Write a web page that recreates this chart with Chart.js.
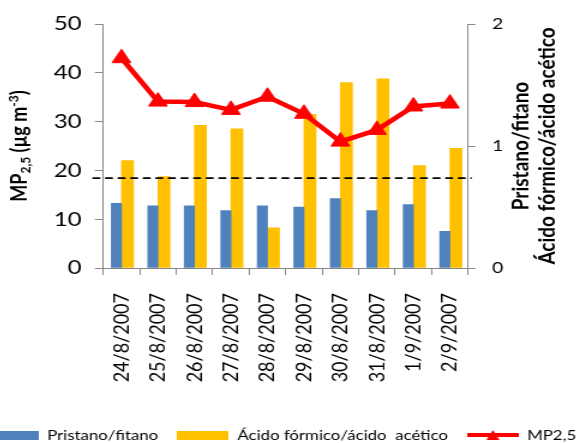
<!DOCTYPE html>
<html>
<head>
<meta charset="utf-8">
<script src="https://cdn.jsdelivr.net/npm/chart.js@4"></script>
<style>
  html, body { margin: 0; padding: 0; background: #fff; overflow: hidden; width: 577px; height: 443px; }
  /* the reference is stretched sideways, so the whole chart is drawn narrow and stretched */
  #wrap { position: absolute; left: -32.2px; top: 0; transform: scaleX(1.2); transform-origin: 0 0; }
</style>
</head>
<body>
<div id="wrap"><canvas id="chart" width="560" height="452"></canvas></div>
<script>
const dates = ['24/8/2007', '25/8/2007', '26/8/2007', '27/8/2007', '28/8/2007',
               '29/8/2007', '30/8/2007', '31/8/2007', '1/9/2007', '2/9/2007'];
const pristanoFitano = [0.53, 0.51, 0.51, 0.47, 0.51, 0.50, 0.57, 0.47, 0.52, 0.30];
const formicoAcetico = [0.88, 0.75, 1.17, 1.14, 0.33, 1.26, 1.52, 1.55, 0.84, 0.98];
const mp25 = [43.0, 34.1, 34.0, 32.4, 35.1, 31.6, 25.9, 28.3, 33.1, 33.7];
const limiteMP = 18.4; // linha tracejada (eixo esquerdo)

const leftTicks = [0, 10, 20, 30, 40, 50];
const rightTicks = [0, 1, 2];

const BLUE = '#4F81BD', ORANGE = '#FFC000', RED = '#FF0000', GREY = '#868686';
Chart.defaults.font.family = 'Lato';
Chart.defaults.color = '#000';

// legend swatches
function swatch(color) {
  const c = document.createElement('canvas');
  c.width = 43; c.height = 9;
  const g = c.getContext('2d');
  g.fillStyle = color; g.fillRect(0, 0, 43, 9);
  return c;
}
function lineSwatch() {
  const c = document.createElement('canvas');
  c.width = 43; c.height = 12;
  const g = c.getContext('2d');
  g.fillStyle = RED;
  g.fillRect(0, 4, 43, 4);
  g.beginPath(); g.moveTo(16, 11); g.lineTo(21.5, 1); g.lineTo(27, 11); g.closePath(); g.fill();
  return c;
}
const swatches = [swatch(BLUE), swatch(ORANGE), lineSwatch()];

const extras = {
  id: 'extras',
  afterDatasetsDraw(chart) {
    const {ctx, chartArea, scales} = chart;
    // dashed line
    const y = scales.y.getPixelForValue(limiteMP);
    ctx.save();
    ctx.strokeStyle = '#000';
    ctx.lineWidth = 1.8;
    ctx.setLineDash([6.5, 4]);
    ctx.beginPath();
    ctx.moveTo(chartArea.left - 9, y);
    ctx.lineTo(chartArea.right + 3, y);
    ctx.stroke();
    ctx.restore();
  },
  afterDraw(chart) {
    const {ctx, chartArea} = chart;
    const cy = (chartArea.top + chartArea.bottom) / 2;
    ctx.save();
    ctx.fillStyle = '#000';
    ctx.textBaseline = 'middle';
    // left title with sub/superscript
    const parts = [
      {t: 'MP', s: 18, dy: 0},
      {t: '2,5', s: 12, dy: 4.5},
      {t: ' (µg m', s: 18, dy: 0},
      {t: '-3', s: 12, dy: -5.5},
      {t: ')', s: 18, dy: 0}
    ];
    let total = 0;
    parts.forEach(p => { ctx.font = 'bold ' + p.s + 'px Lato'; p.w = ctx.measureText(p.t).width; total += p.w; });
    ctx.translate(43.5, cy);
    ctx.rotate(-Math.PI / 2);
    let x = -total / 2;
    ctx.textAlign = 'left';
    parts.forEach(p => { ctx.font = 'bold ' + p.s + 'px Lato'; ctx.fillText(p.t, x, p.dy); x += p.w; });
    ctx.restore();

    // right titles
    ctx.save();
    ctx.fillStyle = '#000';
    ctx.textBaseline = 'middle';
    ctx.textAlign = 'center';
    ctx.font = 'bold 19px Lato';
    [['Pristano/fitano', 460.8], ['Ácido fórmico/ácido acético', 483.3]].forEach(([t, lx]) => {
      ctx.save();
      ctx.translate(lx, cy);
      ctx.rotate(-Math.PI / 2);
      ctx.fillText(t, 0, 0);
      ctx.restore();
    });
    ctx.restore();
  }
};

new Chart(document.getElementById('chart'), {
  type: 'bar',
  data: {
    labels: dates,
    datasets: [
      {
        label: 'Pristano/fitano',
        data: pristanoFitano,
        backgroundColor: BLUE,
        yAxisID: 'y1',
        barThickness: 8.5,
        order: 1
      },
      {
        label: 'Ácido fórmico/ácido  acético',
        data: formicoAcetico,
        backgroundColor: ORANGE,
        yAxisID: 'y1',
        barThickness: 10,
        order: 1
      },
      {
        type: 'line',
        label: 'MP2,5',
        data: mp25,
        yAxisID: 'y',
        borderColor: RED,
        backgroundColor: RED,
        borderWidth: 4.5,
        pointStyle: 'triangle',
        pointRadius: 9,
        pointBorderWidth: 1,
        tension: 0,
        order: 0
      }
    ]
  },
  options: {
    responsive: false,
    devicePixelRatio: 1,
    animation: false,
    layout: { padding: { top: 24, left: 0, right: 0, bottom: 0 } },
    plugins: {
      tooltip: { enabled: false },
      legend: {
        position: 'bottom',
        align: 'start',
        labels: {
          usePointStyle: true,
          pointStyleWidth: 43,
          boxHeight: 9,
          padding: 16,
          color: '#000',
          font: { size: 14 },
          sort: (a, b) => a.datasetIndex - b.datasetIndex,
          generateLabels(chart) {
            const items = Chart.defaults.plugins.legend.labels.generateLabels(chart);
            items.forEach(it => { it.pointStyle = swatches[it.datasetIndex]; });
            return items;
          }
        }
      }
    },
    scales: {
      x: {
        grid: { display: true, drawOnChartArea: false, drawTicks: true, tickLength: 7, color: GREY, offset: true },
        border: { display: true, color: GREY, width: 1 },
        ticks: { minRotation: 90, maxRotation: 90, padding: 18, font: { size: 18 }, color: '#000' },
        afterFit(s) { s.height = 144; }
      },
      y: {
        position: 'left',
        min: 0, max: 50,
        afterBuildTicks(s) { s.ticks = leftTicks.map(v => ({value: v})); },
        grid: { display: true, drawOnChartArea: false, tickLength: 7, color: GREY },
        border: { display: true, color: GREY, width: 1 },
        ticks: { padding: 11, font: { size: 20 }, color: '#000' },
        afterFit(s) { s.width = 112.7; }
      },
      y1: {
        position: 'right',
        min: 0, max: 2,
        afterBuildTicks(s) { s.ticks = rightTicks.map(v => ({value: v})); },
        grid: { display: true, drawOnChartArea: false, tickLength: 6, color: GREY },
        border: { display: true, color: GREY, width: 1 },
        ticks: { padding: 14, font: { size: 16 }, color: '#000' },
        afterFit(s) { s.width = 143.2; }
      }
    }
  },
  plugins: [extras]
});
</script>
</body>
</html>
